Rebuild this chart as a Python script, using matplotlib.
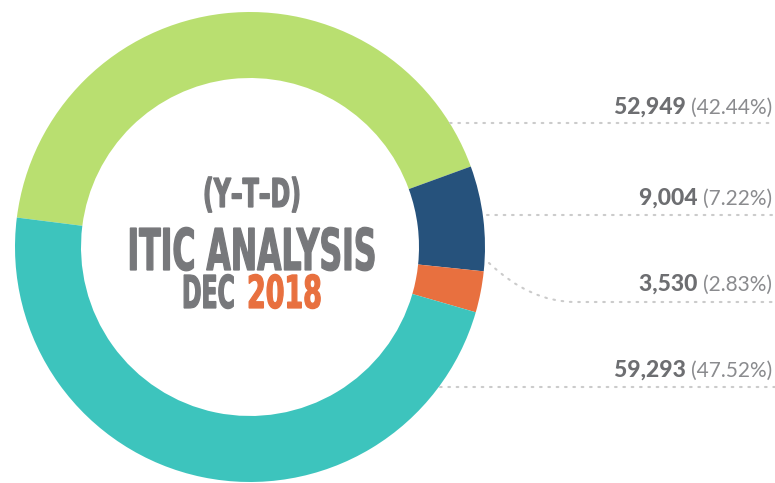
import matplotlib
matplotlib.use('Agg')
import matplotlib.pyplot as plt
import matplotlib.patheffects as pe
from matplotlib.transforms import Affine2D
from matplotlib.path import Path
from matplotlib.patches import PathPatch

# Daten (Y-T-D, Dez 2018)
categories = ['A', 'B', 'C', 'D']
values = [52949, 9004, 3530, 59293]
percents = ['42.44%', '7.22%', '2.83%', '47.52%']
colors = ['#b9df70', '#26527c', '#e8703f', '#3dc4bd']

GRAY = '#6d6e71'
GRAY_LIGHT = '#8a8b8e'
TITLE_GRAY = '#77787b'
ORANGE = '#e8703f'
DOT = '#cbcbcb'

W, H = 775, 483


def py(y_img):
    # Bildkoordinate (oben=0) -> Datenkoordinate
    return H - y_img


class Condense(pe.AbstractPathEffect):
    """Skaliert Text um den Ankerpunkt (x0, y0) - bildet eine Condensed-Schrift nach"""

    def __init__(self, ax, x0, y0, sx, sy, lw=1.0):
        super().__init__()
        self.ax, self.x0, self.y0 = ax, x0, y0
        self.sx, self.sy, self.lw = sx, sy, lw

    def draw_path(self, renderer, gc, tpath, affine, rgbFace=None):
        px, pyy = self.ax.transData.transform((self.x0, self.y0))
        scale = Affine2D().translate(-px, -pyy).scale(self.sx, self.sy).translate(px, pyy)
        gc0 = renderer.new_gc()
        gc0.copy_properties(gc)
        gc0.set_linewidth(self.lw)
        gc0.set_foreground(rgbFace)
        gc0.set_joinstyle('miter')
        renderer.draw_path(gc0, tpath, affine + scale, rgbFace)
        gc0.restore()


fig = plt.figure(figsize=(W / 100, H / 100), dpi=100)
ax = fig.add_axes([0, 0, 1, 1])

cx, cy, r = 250, py(247), 235
ax.pie(values, colors=colors, startangle=172.8, counterclock=False,
       center=(cx, cy), radius=r,
       wedgeprops=dict(width=66, linewidth=0))
ax.set_xlim(0, W)
ax.set_ylim(0, H)
ax.set_aspect('equal', adjustable='datalim')
ax.axis('off')

# Titel in der Mitte
SY = 1.6
title_lines = [
    # text, x, y_img, ha, fontsize, sx, farbe
    ('(Y–T–D)', 252, 207, 'center', 17.9, 0.95, TITLE_GRAY),
    ('ITIC ANALYSIS', 252, 270, 'center', 25.9, 0.875, TITLE_GRAY),
    ('DEC', 235, 308, 'right', 20.4, 0.83, TITLE_GRAY),
    ('2018', 247, 308, 'left', 20.4, 0.95, ORANGE),
]
for txt, x, yb, ha, fs, sx, col in title_lines:
    ax.text(x, py(yb), txt, fontsize=fs, color=col, ha=ha, va='baseline',
            family='DejaVu Sans', weight='bold',
            path_effects=[Condense(ax, x, py(yb), sx, SY, lw=0.9)])

# Beschriftungen rechts
label_base = [114, 205, 291, 377]
for val, pct, yb in zip(values, percents, label_base):
    t = ax.text(772, py(yb), f'({pct})', fontsize=15, family='Lato', weight='normal',
                color=GRAY_LIGHT, ha='right', va='baseline')
    ax.annotate(f'{val:,} ', xy=(0, 0), xycoords=t, ha='right', va='bottom',
                fontsize=16.5, family='Lato', weight='black', color=GRAY)

# Gepunktete Führungslinien
dot_style = dict(color=DOT, linewidth=1.5, linestyle=(0, (0.8, 3.2)),
                 dash_capstyle='round')
ax.plot([450, W], [py(123), py(123)], **dot_style)
ax.plot([487, W], [py(215), py(215)], **dot_style)
ax.plot([440, W], [py(387), py(387)], **dot_style)
curve = Path([(489, py(263)), (530, py(302)), (575, py(302)), (W, py(302))],
             [Path.MOVETO, Path.CURVE3, Path.CURVE3, Path.LINETO])
ax.add_patch(PathPatch(curve, fill=False, edgecolor=DOT, linewidth=1.5,
                       linestyle=(0, (0.8, 3.2)), capstyle='round'))

fig.savefig('out.png', dpi=100)
plt.close()
